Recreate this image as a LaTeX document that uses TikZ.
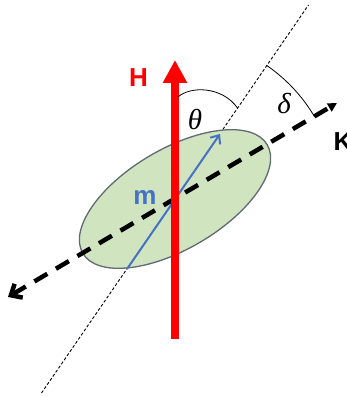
\documentclass[tikz,border=0pt]{standalone}
\usepackage{fontspec}
\setmainfont{Liberation Sans}
\newfontfamily\grkfont{Liberation Serif}
\usetikzlibrary{arrows.meta,calc}
\definecolor{mblue}{HTML}{4472C4}
\definecolor{efill}{HTML}{D0E4C0}
\definecolor{edraw}{HTML}{5F6B73}
\begin{document}
\begin{tikzpicture}[x=1pt,y=1pt,
  lbl/.style={font=\fontsize{26}{30}\selectfont\bfseries, inner sep=0pt},
  greek/.style={font=\fontsize{29}{33}\selectfont\grkfont\itshape, inner sep=0pt},
  kaxis/.style={line width=4.5pt, dash pattern=on 15pt off 10pt},
  guide/.style={line width=0.9pt, dash pattern=on 3pt off 2pt},
  anglearc/.style={line width=0.8pt},
]
\useasboundingbox (0,0) rectangle (347,397);
\coordinate (C) at (175,198);
\coordinate (Dtop) at (308.5,392);
\coordinate (Dbot) at (41.5,4);
\coordinate (Kr) at (337,294);
\coordinate (Kl) at (8,100);
\coordinate (Hb) at (175,58);
\coordinate (Ht) at (175,337);
\coordinate (Mt) at (127,128);
\coordinate (Mh) at (220,263);
\coordinate (T1) at (178,300);
\coordinate (T2) at (237.5,289);
\coordinate (D1) at ($(C)+(55.5:162)$);

\draw[guide] (Dbot) -- (Dtop);
\draw[fill=efill, draw=edraw, line width=1.3pt, rotate around={30.5:(C)}] (C) ellipse[x radius=107, y radius=50];
\draw[kaxis, {Straight Barb[length=9pt,width=16pt]}-{Triangle[length=9pt,width=9pt]}] (Kl) -- (Kr);
\draw[mblue, line width=2pt, -{Straight Barb[length=7pt,width=12pt]}] (Mt) -- (Mh);
\draw[red, line width=8pt, -{Triangle[length=23pt,width=23pt]}] (Hb) -- (Ht);
\draw[anglearc] (T1) .. controls (190,311) and (222,311) .. (T2);
\draw[anglearc] (D1) arc[start angle=55.5, end angle=30.5, radius=162];

\node[lbl, text=red] (H) at (138.5,319) {H};
\node[lbl, text=mblue] (m) at (145,200) {m};
\node[lbl] (K) at (343,255) {K};
\node[greek] (th) at (195,277) {θ};
\node[greek] (de) at (284,293.5) {δ};
\end{tikzpicture}
\end{document}
